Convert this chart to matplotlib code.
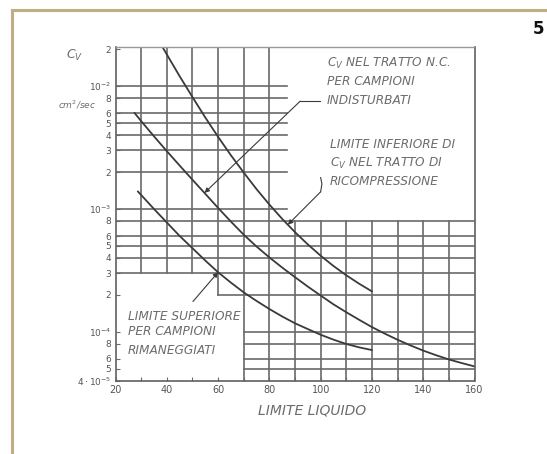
import numpy as np
import matplotlib.pyplot as plt
from matplotlib.lines import Line2D

plt.rcParams['font.family'] = ['DejaVu Sans']

# liquid limit (x) and Cv in cm2/sec
ll_upper = [38.5, 45, 50, 55, 60, 65, 70, 75, 80, 85, 90, 95, 100, 105, 110, 115, 120]
cv_upper = [2.056e-2, 1.208e-2, 8.17e-3, 5.57e-3, 3.87e-3, 2.74e-3, 1.98e-3, 1.45e-3, 1.087e-3,
            8.30e-4, 6.47e-4, 5.14e-4, 4.16e-4, 3.43e-4, 2.88e-4, 2.46e-4, 2.13e-4]

ll_mid = [27.4, 30, 35, 40, 45, 50, 55, 60, 65, 70, 75, 80, 85, 90, 95, 100, 105, 110,
          115, 120, 125, 130, 135, 140, 145, 150, 155, 160]
cv_mid = [6.07e-3, 5.20e-3, 3.91e-3, 2.96e-3, 2.26e-3, 1.73e-3, 1.33e-3, 1.02e-3, 7.89e-4,
          6.17e-4, 4.94e-4, 4.03e-4, 3.33e-4, 2.78e-4, 2.33e-4, 1.97e-4, 1.67e-4, 1.44e-4,
          1.25e-4, 1.09e-4, 9.64e-5, 8.59e-5, 7.73e-5, 7.01e-5, 6.43e-5, 5.94e-5, 5.55e-5, 5.21e-5]

ll_low = [28.7, 30, 35, 40, 45, 50, 55, 60, 65, 70, 75, 80, 85, 90, 95, 100, 105, 110, 115, 120]
cv_low = [1.39e-3, 1.30e-3, 1.0e-3, 7.76e-4, 6.03e-4, 4.79e-4, 3.80e-4, 3.05e-4, 2.51e-4, 2.09e-4,
          1.78e-4, 1.53e-4, 1.33e-4, 1.17e-4, 1.05e-4, 9.44e-5, 8.61e-5, 7.94e-5, 7.45e-5, 7.08e-5]

ytick_vals = [2e-2, 1e-2, 8e-3, 6e-3, 5e-3, 4e-3, 3e-3, 2e-3, 1e-3, 8e-4, 6e-4, 5e-4, 4e-4,
              3e-4, 2e-4, 1e-4, 8e-5, 6e-5, 5e-5, 4e-5]
ytick_labels = ['2', r'$10^{-2}$', '8', '6', '5', '4', '3', '2', r'$10^{-3}$', '8', '6', '5',
                '4', '3', '2', r'$10^{-4}$', '8', '6', '5', r'$4\cdot10^{-5}$']
xtick_vals = [20, 40, 60, 80, 100, 120, 140, 160]

# partial grid of the original nomogram
rows_upper = [1e-2, 8e-3, 6e-3, 5e-3, 4e-3, 3e-3, 2e-3, 1e-3]
rows_full = [8e-4, 6e-4, 5e-4, 4e-4, 3e-4]
rows_low = [1e-4, 8e-5, 6e-5, 5e-5]
cols_left = [30, 40, 50]
cols_right = [90, 100, 110, 120, 130, 140, 150]

GRID = '#6a6a6a'
CURVE = '#3a3a3a'
TXT = '#6c6c6c'

fig = plt.figure(figsize=(5.47, 4.54), dpi=100)
ax = fig.add_axes([115.5 / 547, 1 - 380.5 / 454, 359 / 547, 333.8 / 454])
ax.set_yscale('log')
ax.set_xlim(20, 160)
ax.set_ylim(4e-5, 2.1e-2)

glw = 1.2
for r in rows_upper:
    ax.plot([20, 87], [r, r], color=GRID, lw=glw)
for r in rows_full:
    ax.plot([20, 160], [r, r], color=GRID, lw=glw)
ax.plot([60, 160], [2e-4, 2e-4], color=GRID, lw=glw)
for r in rows_low:
    ax.plot([70, 160], [r, r], color=GRID, lw=glw)
for c in cols_left:
    ax.plot([c, c], [3e-4, 2.1e-2], color=GRID, lw=glw)
ax.plot([60, 60], [2e-4, 2.1e-2], color=GRID, lw=glw)
for c in [70, 80]:
    ax.plot([c, c], [4e-5, 2.1e-2], color=GRID, lw=glw)
for c in cols_right:
    ax.plot([c, c], [4e-5, 8e-4], color=GRID, lw=glw)

for xs, ys in [(ll_upper, cv_upper), (ll_mid, cv_mid), (ll_low, cv_low)]:
    ax.plot(xs, ys, color=CURVE, lw=1.3, solid_capstyle='round')


def on_curve(x, xs, ys):
    return 10 ** np.interp(x, xs, np.log10(ys))


arrow = dict(arrowstyle='-|>', color=CURVE, lw=0.8, mutation_scale=7, shrinkA=0, shrinkB=0)

# leader to middle curve
tip = (54.7, on_curve(54.7, ll_mid, cv_mid))
ax.plot([92, 99.8], [7.55e-3, 7.55e-3], color=CURVE, lw=0.8)
ax.annotate('', xy=tip, xytext=(92, 7.55e-3), arrowprops=arrow)
# leader to upper curve
tip = (87.2, on_curve(87.2, ll_upper, cv_upper))
ax.plot([100, 100.5, 100], [1.38e-3, 1.6e-3, 1.8e-3], color=CURVE, lw=0.8)
ax.annotate('', xy=tip, xytext=(100, 1.38e-3), arrowprops=arrow)
# leader to lower curve
tip = (60, on_curve(60, ll_low, cv_low))
ax.annotate('', xy=tip, xytext=(50.2, 1.76e-4), arrowprops=arrow)

notes = [
    (0.588, 0.950, r'C$_V$ NEL TRATTO N.C.'),
    (0.588, 0.895, 'PER CAMPIONI'),
    (0.588, 0.840, 'INDISTURBATI'),
    (0.597, 0.706, 'LIMITE INFERIORE DI'),
    (0.597, 0.651, r'C$_V$ NEL TRATTO DI'),
    (0.597, 0.596, 'RICOMPRESSIONE'),
    (0.035, 0.193, 'LIMITE SUPERIORE'),
    (0.035, 0.146, 'PER CAMPIONI'),
    (0.035, 0.091, 'RIMANEGGIATI'),
]
for x, y, s in notes:
    ax.text(x, y, s, transform=ax.transAxes, ha='left', va='center', fontsize=8.7,
            style='italic', color=TXT)

ax.set_yticks(ytick_vals)
ax.set_yticklabels(ytick_labels)
ax.yaxis.set_minor_locator(plt.NullLocator())
ax.set_xticks(range(20, 161, 10), minor=True)
ax.set_xticks(xtick_vals)
ax.set_xticklabels([str(v) for v in xtick_vals])
ax.tick_params(axis='both', which='both', direction='in', length=3, width=0.8,
               color=GRID, labelcolor='#555555', pad=3)
ax.tick_params(axis='y', labelsize=6.5)
ax.tick_params(axis='x', labelsize=7, top=False)
for side in ['left', 'bottom', 'right']:
    ax.spines[side].set_color('#606060')
    ax.spines[side].set_linewidth(1.2)
ax.spines['top'].set_color('#9a9a9a')
ax.spines['top'].set_linewidth(1.0)

fig.text(75 / 547, 1 - 55 / 454, r'C$_V$', ha='center', va='center', fontsize=9,
         style='italic', color=TXT)
fig.text(77 / 547, 1 - 105 / 454, r'cm$^2$/sec', ha='center', va='center', fontsize=6.5,
         style='italic', color=TXT)
fig.text(311.7 / 547, 1 - 410 / 454, 'LIMITE LIQUIDO', ha='center', va='center',
         fontsize=10, style='italic', color=TXT)
fig.text(539 / 547, 1 - 29 / 454, '5', ha='center', va='center', fontsize=12,
         weight='bold', color='#111111')

# tan frame of the page
fig.add_artist(Line2D([12 / 547, 1], [1 - 10 / 454, 1 - 10 / 454], color='#bfae82', lw=2.2))
fig.add_artist(Line2D([12 / 547, 12 / 547], [0, 1 - 10 / 454], color='#bfae82', lw=2.2))

fig.savefig('out.png', dpi=100)
